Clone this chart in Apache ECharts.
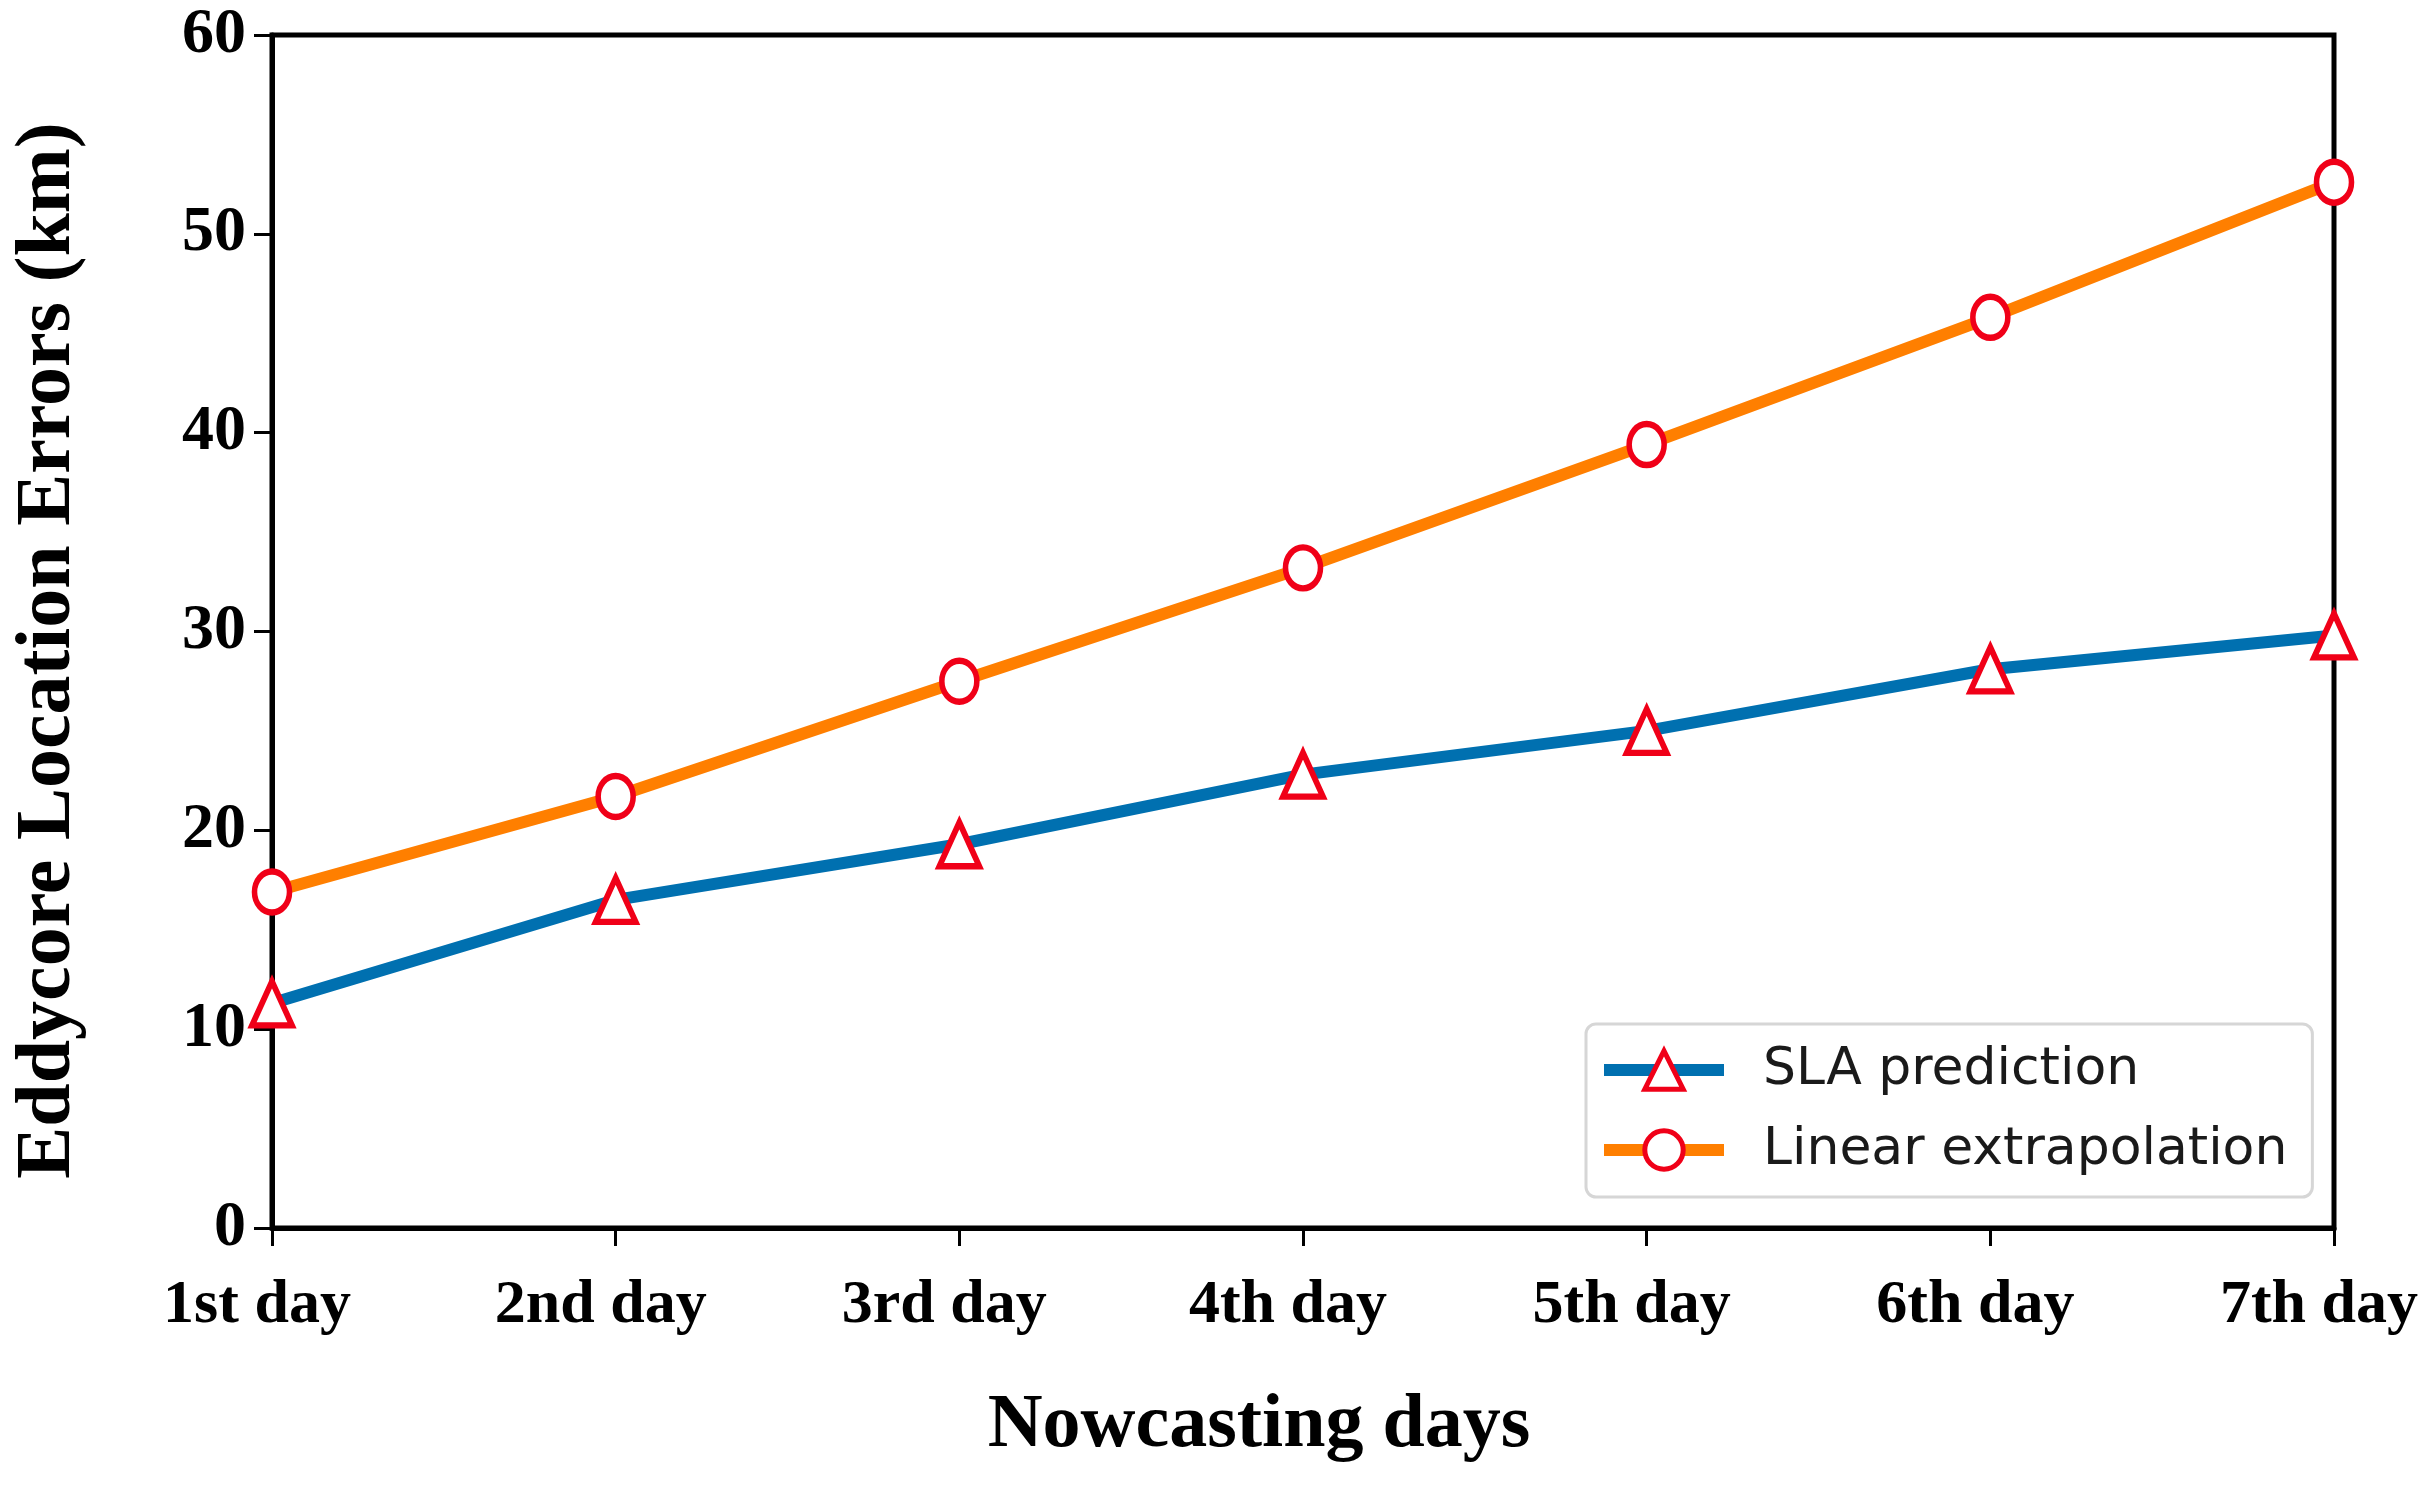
<!DOCTYPE html>
<html>
<head>
<meta charset="utf-8">
<script src="https://cdn.jsdelivr.net/npm/echarts@6/dist/echarts.min.js"></script>
<style>html,body{margin:0;padding:0;background:#fff;}#c{width:2425px;height:1487px;}</style>
</head>
<body>
<div id="c"></div>
<script>
const categories = ['1st day', '2nd day', '3rd day', '4th day', '5th day', '6th day', '7th day'];
const slaPrediction = [11.3, 16.5, 19.3, 22.8, 25.0, 28.1, 29.8];
const linearExtrapolation = [16.9, 21.7, 27.5, 33.2, 39.4, 45.8, 52.6];
const yTicks = { min: 0, max: 60, interval: 10 };
const seriesNames = ['SLA prediction', 'Linear extrapolation'];

const serif = 'Liberation Serif, Times New Roman, serif';
const markerColor = '#f00018';
const chart = echarts.init(document.getElementById('c'));
chart.setOption({
  backgroundColor: '#fff',
  animation: false,
  grid: { left: 272, right: 91, top: 35, bottom: 259, show: true, borderColor: '#000', borderWidth: 5, backgroundColor: 'transparent' },
  legend: {
    left: 1586, top: 1024,
    orient: 'vertical',
    data: seriesNames,
    itemWidth: 120, itemHeight: 48, itemGap: 28,
    padding: [20, 25, 21, 12],
    borderColor: '#d6d6d6', borderWidth: 3, borderRadius: 10,
    backgroundColor: '#fff',
    lineStyle: { width: 12 },
    itemStyle: { borderWidth: 5 },
    textStyle: { fontFamily: 'DejaVu Sans', fontSize: 52, color: '#1a1a1a', padding: [0, 0, 0, 34] }
  },
  xAxis: {
    type: 'category', data: categories, boundaryGap: false,
    name: 'Nowcasting days', nameLocation: 'middle', nameGap: 160,
    nameTextStyle: { fontFamily: serif, fontWeight: 'bold', fontSize: 76, color: '#000', padding: [0, 88, 0, 0] },
    axisLine: { lineStyle: { color: '#000', width: 5 } },
    axisTick: { show: true, alignWithLabel: true, length: 18, lineStyle: { color: '#000', width: 3 } },
    axisLabel: { fontFamily: serif, fontWeight: 'bold', fontSize: 62, color: '#000', margin: 47, padding: [0, 30, 0, 0] },
    splitLine: { show: false }
  },
  yAxis: {
    type: 'value', min: yTicks.min, max: yTicks.max, interval: yTicks.interval,
    name: 'Eddycore Location Errors (km)', nameLocation: 'middle', nameGap: 184,
    nameTextStyle: { fontFamily: serif, fontWeight: 'bold', fontSize: 78, color: '#000', padding: [0, 38, 0, 0] },
    axisLine: { show: true, lineStyle: { color: '#000', width: 5 } },
    axisTick: { show: true, length: 18, lineStyle: { color: '#000', width: 3 } },
    axisLabel: { fontFamily: serif, fontWeight: 'bold', fontSize: 64, color: '#000', margin: 26 },
    splitLine: { show: false }
  },
  series: [
    {
      name: seriesNames[0], type: 'line', data: slaPrediction,
      symbol: 'triangle', symbolSize: [40, 44],
      lineStyle: { color: '#0070b0', width: 12 },
      itemStyle: { color: '#fff', borderColor: markerColor, borderWidth: 6 },
      z: 3
    },
    {
      name: seriesNames[1], type: 'line', data: linearExtrapolation,
      symbol: 'circle', symbolSize: [35, 41],
      lineStyle: { color: '#ff7f00', width: 12 },
      itemStyle: { color: '#fff', borderColor: markerColor, borderWidth: 6 },
      z: 4
    }
  ]
});
</script>
</body>
</html>
